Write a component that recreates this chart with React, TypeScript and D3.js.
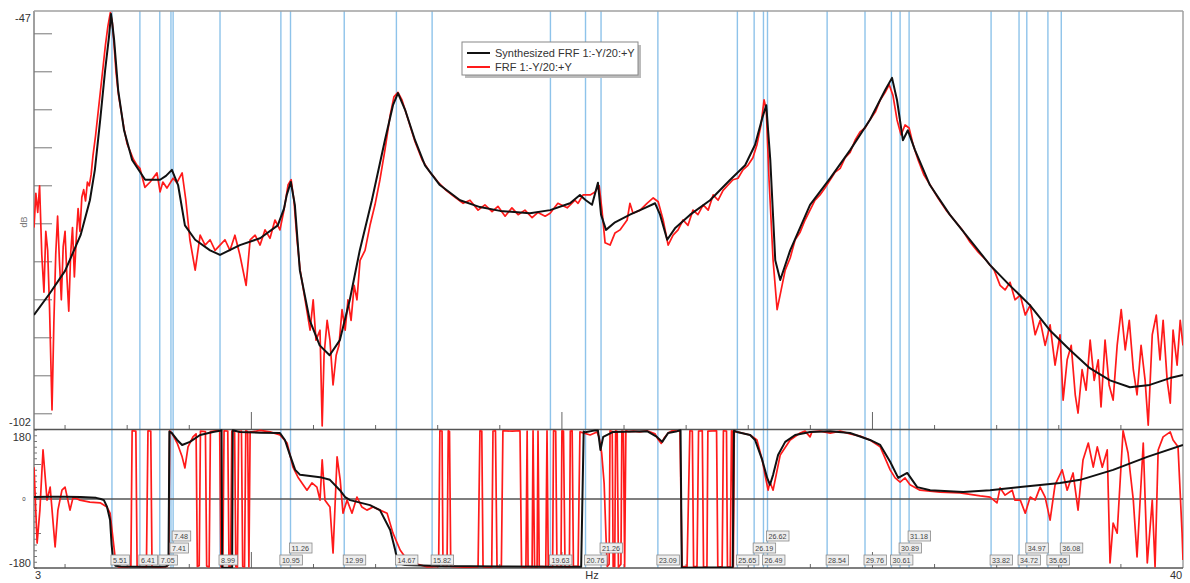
import React from "react";
import * as d3 from "d3";

type P = [number, number];

const markerFreqs: number[] = [5.51, 6.41, 7.05, 7.41, 7.48, 8.99, 10.95, 11.26, 12.99, 14.67, 15.82, 19.63, 20.76, 21.26, 23.09, 25.65, 26.19, 26.49, 26.62, 28.54, 29.76, 30.61, 30.89, 31.18, 33.82, 34.72, 34.97, 35.65, 36.08];

const synthMag: P[] = [[3.00,-87.0],[3.50,-84.2],[4.00,-81.2],[4.50,-76.5],[4.80,-71.9],[4.96,-67.9],[5.13,-61.4],[5.29,-54.8],[5.42,-50.2],[5.48,-47.4],[5.52,-48.6],[5.58,-50.8],[5.71,-57.4],[5.90,-62.7],[6.16,-66.6],[6.58,-69.2],[7.06,-69.2],[7.25,-68.7],[7.44,-67.9],[7.64,-69.9],[7.86,-75.2],[8.19,-77.1],[8.67,-78.5],[8.99,-79.1],[9.63,-77.8],[10.28,-76.9],[10.85,-75.2],[11.05,-73.0],[11.14,-71.2],[11.27,-69.5],[11.40,-72.5],[11.56,-81.1],[11.88,-87.7],[12.20,-91.0],[12.52,-92.3],[12.85,-90.3],[13.17,-85.0],[13.49,-78.5],[13.88,-71.9],[14.30,-64.0],[14.56,-59.4],[14.72,-57.8],[14.95,-60.0],[15.27,-64.0],[15.59,-67.3],[16.07,-69.9],[16.72,-71.9],[17.36,-72.8],[18.01,-73.3],[18.97,-73.6],[19.62,-73.2],[20.26,-72.3],[20.58,-71.2],[20.77,-71.9],[20.97,-72.5],[21.16,-69.6],[21.26,-73.8],[21.42,-75.8],[21.71,-74.8],[22.19,-73.8],[22.68,-72.9],[23.00,-72.3],[23.16,-73.8],[23.39,-77.1],[23.64,-75.6],[24.13,-73.8],[24.77,-71.9],[25.42,-69.2],[25.90,-67.3],[26.22,-64.6],[26.45,-61.1],[26.58,-59.4],[26.71,-66.6],[26.87,-79.8],[27.03,-82.4],[27.35,-78.5],[27.99,-72.5],[28.64,-69.0],[29.28,-65.3],[29.92,-61.3],[30.41,-57.4],[30.63,-55.8],[30.79,-58.7],[30.98,-64.0],[31.14,-62.7],[31.37,-65.3],[31.85,-69.9],[32.49,-73.8],[33.14,-77.1],[33.78,-80.4],[34.42,-83.1],[35.07,-85.7],[35.71,-89.0],[36.36,-91.6],[37.00,-94.0],[37.65,-95.6],[38.29,-96.5],[38.93,-96.2],[39.58,-95.3],[40.00,-94.9]];

const measMag: P[] = [[3.00,-75.5],[3.06,-71.0],[3.12,-73.5],[3.18,-70.0],[3.25,-79.0],[3.32,-84.0],[3.38,-76.0],[3.44,-78.5],[3.50,-86.0],[3.58,-99.5],[3.64,-88.0],[3.70,-79.0],[3.76,-74.0],[3.82,-80.0],[3.88,-85.0],[3.94,-78.0],[4.00,-76.0],[4.06,-82.0],[4.12,-86.5],[4.18,-79.0],[4.24,-75.5],[4.30,-82.0],[4.36,-77.0],[4.42,-73.0],[4.48,-76.0],[4.54,-71.5],[4.60,-70.5],[4.66,-72.0],[4.72,-69.5],[4.78,-70.0],[4.84,-68.5],[4.90,-66.0],[4.98,-63.5],[5.06,-60.5],[5.14,-57.5],[5.22,-54.5],[5.30,-51.5],[5.38,-49.0],[5.46,-47.2],[5.52,-48.5],[5.58,-51.5],[5.64,-55.0],[5.72,-58.0],[5.80,-60.0],[5.90,-62.5],[6.00,-64.5],[6.10,-65.5],[6.20,-66.5],[6.30,-67.2],[6.41,-67.7],[6.57,-70.2],[6.74,-69.5],[6.96,-68.3],[7.06,-70.8],[7.15,-69.5],[7.28,-70.3],[7.48,-69.0],[7.60,-69.6],[7.77,-68.3],[7.89,-71.9],[8.02,-77.1],[8.19,-81.1],[8.35,-76.5],[8.51,-77.8],[8.67,-77.1],[8.83,-78.5],[8.99,-77.8],[9.15,-77.1],[9.31,-78.5],[9.47,-76.5],[9.63,-79.1],[9.83,-83.1],[9.96,-77.1],[10.12,-76.5],[10.28,-77.8],[10.44,-75.8],[10.60,-76.9],[10.76,-74.5],[10.92,-75.8],[11.05,-73.2],[11.18,-69.9],[11.28,-69.2],[11.37,-71.9],[11.47,-77.1],[11.57,-81.1],[11.73,-85.0],[11.89,-89.0],[11.99,-85.0],[12.08,-90.3],[12.21,-89.0],[12.28,-101.6],[12.34,-92.3],[12.44,-87.7],[12.53,-90.3],[12.63,-96.2],[12.73,-92.3],[12.82,-91.0],[12.92,-86.3],[13.02,-89.0],[13.11,-85.0],[13.21,-87.7],[13.31,-83.1],[13.40,-85.0],[13.50,-79.8],[13.66,-78.5],[13.82,-75.2],[13.98,-72.5],[14.14,-69.2],[14.30,-65.3],[14.47,-60.7],[14.59,-58.3],[14.72,-57.7],[14.85,-58.7],[15.05,-61.3],[15.27,-64.2],[15.50,-66.6],[15.75,-68.2],[16.01,-69.5],[16.27,-70.6],[16.56,-71.5],[16.82,-72.3],[17.04,-71.9],[17.30,-73.2],[17.52,-72.5],[17.75,-73.4],[17.94,-72.7],[18.17,-74.0],[18.39,-72.9],[18.59,-73.8],[18.81,-73.2],[19.04,-74.2],[19.23,-73.5],[19.46,-74.0],[19.62,-73.6],[19.87,-72.3],[20.17,-72.9],[20.42,-71.9],[20.52,-72.3],[20.68,-71.2],[20.91,-71.2],[21.07,-70.8],[21.20,-70.0],[21.29,-73.2],[21.39,-77.5],[21.55,-77.8],[21.71,-76.2],[21.87,-75.8],[22.10,-74.5],[22.19,-72.3],[22.29,-73.6],[22.52,-73.2],[22.74,-72.3],[22.94,-71.6],[23.10,-72.1],[23.26,-74.5],[23.42,-77.8],[23.58,-76.5],[23.74,-75.8],[23.90,-74.5],[24.06,-75.2],[24.22,-73.2],[24.38,-73.8],[24.55,-72.5],[24.71,-73.2],[24.87,-71.2],[25.03,-71.9],[25.19,-70.6],[25.35,-69.9],[25.51,-69.2],[25.67,-69.0],[25.83,-67.9],[25.99,-67.3],[26.15,-66.3],[26.28,-64.6],[26.41,-62.0],[26.51,-58.7],[26.58,-60.0],[26.67,-69.2],[26.80,-79.8],[26.93,-86.3],[27.06,-83.7],[27.19,-81.1],[27.35,-79.5],[27.51,-77.1],[27.67,-76.1],[27.83,-74.5],[27.99,-73.2],[28.15,-71.9],[28.31,-71.2],[28.47,-70.3],[28.64,-69.2],[28.80,-68.2],[28.96,-67.7],[29.12,-66.3],[29.28,-65.6],[29.44,-64.0],[29.60,-62.9],[29.76,-62.4],[29.92,-61.3],[30.09,-60.3],[30.25,-58.7],[30.41,-57.7],[30.54,-56.7],[30.66,-58.1],[30.79,-61.3],[30.92,-63.3],[31.05,-62.0],[31.18,-62.4],[31.31,-64.6],[31.47,-66.6],[31.66,-68.6],[31.86,-69.9],[32.11,-71.6],[32.37,-73.2],[32.63,-74.5],[32.89,-75.8],[33.14,-77.4],[33.40,-78.7],[33.66,-79.8],[33.92,-81.1],[34.11,-83.1],[34.27,-83.7],[34.43,-82.7],[34.59,-85.0],[34.76,-84.4],[34.92,-87.0],[35.08,-85.7],[35.24,-89.6],[35.40,-87.7],[35.56,-91.0],[35.72,-88.3],[35.88,-93.6],[36.04,-89.6],[36.14,-98.2],[36.27,-92.9],[36.40,-91.0],[36.53,-97.5],[36.62,-99.9],[36.75,-94.2],[36.88,-96.9],[37.01,-90.3],[37.14,-95.6],[37.27,-92.9],[37.36,-99.1],[37.49,-90.3],[37.62,-96.2],[37.75,-98.2],[37.88,-91.0],[38.01,-86.3],[38.14,-91.6],[38.27,-87.7],[38.40,-94.2],[38.52,-97.5],[38.65,-91.0],[38.78,-95.6],[38.88,-101.5],[39.01,-89.6],[39.14,-87.0],[39.26,-92.9],[39.36,-87.7],[39.49,-95.6],[39.59,-98.6],[39.68,-89.0],[39.81,-93.6],[39.91,-87.7],[40.00,-91.0]];

const synthPhase: P[] = [[3.00,5],[3.50,6],[4.00,6],[4.50,5],[5.00,3],[5.15,0],[5.25,-3],[5.35,-20],[5.45,-55],[5.50,-120],[5.55,-160],[5.62,-174],[5.80,-176],[6.50,-177],[7.00,-177],[7.25,-176],[7.33,-172],[7.36,176],[7.44,172],[7.61,154],[7.77,141],[8.02,149],[8.35,167],[8.76,175],[8.99,178],[9.04,179.5],[9.06,-179.5],[9.38,-179.5],[9.40,179.5],[9.63,175],[10.28,173],[10.92,172],[11.08,154],[11.24,115],[11.41,76],[11.57,63],[12.21,57],[12.53,50],[12.85,23],[13.02,5],[13.18,-3],[13.82,-16],[14.14,-29],[14.47,-81],[14.63,-133],[14.72,-167],[14.95,-172],[16.07,-175],[18.00,-176],[20.00,-177],[20.62,-177],[20.70,176],[20.75,174],[21.07,179],[21.16,179],[21.24,128],[21.33,162],[21.65,175],[22.74,177],[23.06,162],[23.23,149],[23.42,172],[23.71,177],[23.82,179.5],[23.86,-179.5],[25.50,-178],[25.54,178],[25.64,175],[26.06,167],[26.22,154],[26.45,102],[26.61,55],[26.70,37],[26.80,63],[26.96,115],[27.19,149],[27.51,167],[27.99,175],[28.64,177],[29.28,172],[29.92,154],[30.25,141],[30.57,97],[30.83,55],[31.12,68],[31.44,31],[31.86,23],[32.92,18],[33.79,23],[34.76,31],[36.04,42],[36.69,50],[37.75,76],[38.85,110],[40.00,141]];

const measPhase: P[] = [[3.00,83],[3.10,-115],[3.19,-29],[3.29,128],[3.42,-3],[3.52,31],[3.68,-125],[3.77,-29],[3.90,23],[4.00,31],[4.16,-29],[4.26,5],[4.48,-3],[4.80,-8],[5.13,-10],[5.35,-21],[5.45,-37],[5.61,-151],[5.71,-177],[6.00,-177],[6.12,-175],[6.16,178],[6.28,177],[6.32,-176],[6.62,-178],[6.67,178],[6.76,177],[6.80,-177],[7.05,-178],[7.28,-176],[7.34,-168],[7.37,178],[7.44,172],[7.61,146],[7.77,110],[7.86,81],[7.96,136],[8.12,162],[8.22,170],[8.26,-176],[8.32,-174],[8.36,177],[8.52,176],[8.56,-175],[8.64,-177],[8.68,176],[8.85,178],[8.98,177],[9.02,-177],[9.08,-176],[9.12,178],[9.24,177],[9.28,-178],[9.33,-176],[9.37,177],[9.46,178],[9.50,-177],[9.55,-178],[9.59,176],[9.68,177],[9.72,-176],[9.78,-177],[9.82,178],[9.88,176],[9.92,-177],[9.96,175],[10.02,175],[10.28,179],[10.60,175],[10.92,167],[11.15,146],[11.34,83],[11.50,57],[11.79,23],[11.95,42],[12.11,31],[12.21,-3],[12.28,102],[12.37,-3],[12.53,-21],[12.63,-141],[12.76,110],[12.86,50],[12.95,-37],[13.08,-3],[13.24,-37],[13.40,5],[13.56,-21],[13.72,-29],[13.92,-21],[14.14,-29],[14.37,-37],[14.56,-89],[14.79,-133],[14.95,-151],[15.21,-167],[15.66,-177],[16.03,-176],[16.07,178],[16.14,177],[16.17,-175],[16.30,-176],[16.34,178],[16.38,176],[16.42,-176],[16.90,-178],[17.30,-177],[17.36,178],[17.42,177],[17.46,-177],[17.74,-178],[17.78,177],[17.86,178],[17.91,-177],[18.05,-176],[18.10,178],[18.40,177],[18.65,178],[18.70,-177],[18.84,-178],[18.88,177],[18.91,-176],[19.04,-177],[19.07,178],[19.12,-177],[19.20,-178],[19.23,177],[19.27,-176],[19.48,-177],[19.52,178],[19.56,-177],[19.70,-178],[19.73,178],[19.80,177],[19.84,-176],[19.97,-177],[20.00,178],[20.05,177],[20.10,-177],[20.24,-178],[20.27,177],[20.33,178],[20.37,-176],[20.52,-176],[20.58,175],[20.91,167],[21.13,175],[21.20,160],[21.28,120],[21.36,40],[21.42,-100],[21.46,-176],[21.52,-170],[21.55,178],[21.62,176],[21.65,-176],[21.70,-176],[21.73,178],[21.78,176],[21.82,-178],[21.90,-170],[21.93,177],[21.98,176],[22.02,-176],[22.06,178],[22.15,176],[22.30,177],[22.50,175],[22.74,178],[23.00,170],[23.10,155],[23.20,145],[23.30,160],[23.42,172],[23.55,178],[23.80,177],[23.87,-177],[24.03,-176],[24.12,178],[24.20,177],[24.24,-176],[24.35,-177],[24.40,177],[24.52,178],[24.56,-177],[24.67,-178],[24.70,177],[24.98,178],[25.02,-178],[25.16,-176],[25.20,178],[25.30,177],[25.33,-177],[25.42,-178],[25.46,178],[25.49,177],[25.52,-177],[25.55,176],[25.64,175],[26.06,167],[26.28,154],[26.45,102],[26.54,63],[26.64,23],[26.70,44],[26.80,23],[26.90,63],[27.03,115],[27.35,154],[27.67,172],[27.83,177],[27.99,162],[28.05,175],[28.31,177],[28.64,172],[28.96,177],[29.28,170],[29.60,164],[29.92,154],[30.25,136],[30.57,76],[30.73,55],[30.89,44],[31.05,55],[31.21,37],[31.53,23],[32.18,18],[32.82,16],[33.47,8],[33.79,5],[34.01,-10],[34.11,29],[34.27,10],[34.50,23],[34.59,-3],[34.76,-3],[34.92,-37],[35.08,5],[35.24,-3],[35.40,31],[35.56,5],[35.72,-55],[35.88,37],[36.11,76],[36.27,23],[36.46,68],[36.62,-29],[36.78,102],[36.95,146],[37.11,83],[37.24,136],[37.40,83],[37.56,128],[37.65,-167],[37.75,-63],[37.88,-89],[38.07,178],[38.23,120],[38.40,-3],[38.52,-151],[38.72,146],[38.85,-167],[39.01,-3],[39.10,-177],[39.20,128],[39.36,162],[39.59,175],[39.68,154],[39.84,136],[39.97,-89],[40.00,-159]];

const magTicks: number[] = [-50, -55, -60, -65, -70, -75, -80, -85, -90, -95, -100];
const phaseMajorTicks: number[] = [-90, 90];
const freqTicks: number[] = [4, 6, 8, 10, 12, 14, 16, 18, 20, 22, 24, 26, 28, 30, 32, 34, 36, 38];
const legendLabels: string[] = ["Synthesized FRF 1:-Y/20:+Y", "FRF 1:-Y/20:+Y"];
const legendColors: string[] = ["#111111", "#ff1a1a"];

const W = 1190, H = 583;
const L = 34, R = 1183;
const TOP1 = 11, BOT1 = 429, TOP2 = 430, BOT2 = 568;
const FONT = "Arial, 'Liberation Sans', sans-serif";

export default function App() {
  const x = d3.scaleLinear().domain([3, 40]).range([L, R]);
  const yMag = d3.scaleLinear().domain([-102, -47]).range([BOT1, TOP1]);
  const yPh = d3.scaleLinear().domain([-180, 180]).range([BOT2, TOP2]);
  const lineMag = d3.line<P>().x(d => x(d[0])).y(d => yMag(d[1]));
  const linePh = d3.line<P>().x(d => x(d[0])).y(d => yPh(d[1]));

  const rowEnds: number[] = [];
  const markers = markerFreqs.map(f => {
    const label = f.toFixed(2);
    const bx = x(f) - 1;
    const bw = label.length * 3.9 + 3;
    let r = 0;
    while (rowEnds[r] !== undefined && rowEnds[r] > bx) r++;
    rowEnds[r] = bx + bw;
    return { f, label, bx, bw, r };
  });

  const phMinor = d3.range(-180, 181, 15);

  return (
    <svg width={W} height={H} style={{ position: "absolute", left: 0, top: 0, background: "#fff" }} fontFamily={FONT}>
      <defs>
        <clipPath id="c1"><rect x={L} y={TOP1} width={R - L} height={BOT1 - TOP1} /></clipPath>
        <clipPath id="c2"><rect x={L} y={TOP2 - 1} width={R - L} height={BOT2 - TOP2 + 1} /></clipPath>
      </defs>

      {markers.map((m, i) => (
        <line key={"ml" + i} x1={x(m.f)} x2={x(m.f)} y1={TOP1} y2={BOT2} stroke="#8ec3ea" strokeWidth={1.4} />
      ))}

      <line x1={L} x2={R} y1={TOP1} y2={TOP1} stroke="#a0a0a0" strokeWidth={1.5} />
      <line x1={R} x2={R} y1={TOP1} y2={BOT2} stroke="#a0a0a0" strokeWidth={1.5} />
      <line x1={L} x2={L} y1={TOP1} y2={BOT2} stroke="#a0a0a0" strokeWidth={2} />

      {magTicks.map(t => (
        <line key={"mt" + t} x1={L} x2={L + 18} y1={yMag(t)} y2={yMag(t)} stroke="#777" strokeWidth={1} />
      ))}
      {phMinor.map(t => (
        <line key={"pt" + t} x1={L} x2={L + (phaseMajorTicks.includes(t) ? 7 : 3)} y1={yPh(t)} y2={yPh(t)} stroke="#777" strokeWidth={1} />
      ))}
      {freqTicks.map(f => {
        const major = f % 10 === 0;
        return (
          <g key={"ft" + f}>
            <line x1={x(f)} x2={x(f)} y1={BOT1} y2={BOT1 - (major ? 17 : 4)} stroke="#666" strokeWidth={1} />
            <line x1={x(f)} x2={x(f)} y1={BOT2} y2={BOT2 - (major ? 16 : 4)} stroke="#666" strokeWidth={1} />
          </g>
        );
      })}

      <line x1={L} x2={R} y1={BOT1 + 0.5} y2={BOT1 + 0.5} stroke="#555" strokeWidth={1.3} />
      <line x1={L} x2={R} y1={yPh(0)} y2={yPh(0)} stroke="#555" strokeWidth={1.3} />
      <line x1={L} x2={R} y1={BOT2} y2={BOT2} stroke="#555" strokeWidth={1.3} />

      <g clipPath="url(#c1)">
        <path d={lineMag(measMag) || ""} fill="none" stroke="#ff1a1a" strokeWidth={1.7} strokeLinejoin="round" />
        <path d={lineMag(synthMag) || ""} fill="none" stroke="#111" strokeWidth={2} strokeLinejoin="round" />
      </g>
      <g clipPath="url(#c2)">
        <path d={linePh(measPhase) || ""} fill="none" stroke="#ff1a1a" strokeWidth={1.7} strokeLinejoin="round" />
        <path d={linePh(synthPhase) || ""} fill="none" stroke="#111" strokeWidth={2} strokeLinejoin="round" />
      </g>

      {markers.map((m, i) => {
        const top = 555 - m.r * 12;
        return (
          <g key={"lb" + i}>
            <rect x={m.bx} y={top} width={m.bw} height={10} fill="#eeeeee" stroke="#8a8a8a" strokeWidth={0.8} />
            <text x={m.bx + 2} y={top + 8} fontSize={7.2} fill="#444">{m.label}</text>
          </g>
        );
      })}

      <text x={31} y={22} fontSize={11} textAnchor="end" fill="#333">{"-47"}</text>
      <text x={31} y={426} fontSize={11} textAnchor="end" fill="#333">{"-102"}</text>
      <text x={31} y={441} fontSize={11} textAnchor="end" fill="#333">{"180"}</text>
      <text x={24} y={501} fontSize={6} textAnchor="middle" fill="#333">{"0"}</text>
      <text x={31} y={567} fontSize={11} textAnchor="end" fill="#333">{"-180"}</text>
      <text x={27} y={222} fontSize={9} textAnchor="middle" fill="#777" transform="rotate(-90 27 222)">{"dB"}</text>
      <text x={38} y={579} fontSize={11} textAnchor="middle" fill="#333">{"3"}</text>
      <text x={592} y={579} fontSize={11} textAnchor="middle" fill="#333">{"Hz"}</text>
      <text x={1176} y={579} fontSize={11} textAnchor="middle" fill="#333">{"40"}</text>

      <g>
        <rect x={465} y={45} width={176} height={33} fill="#bbb" />
        <rect x={462} y={42} width={176} height={33} fill="#fff" stroke="#888" strokeWidth={1} />
        {legendLabels.map((lab, i) => (
          <g key={"lg" + i}>
            <line x1={467} x2={490} y1={53 + i * 14} y2={53 + i * 14} stroke={legendColors[i]} strokeWidth={2} />
            <text x={495} y={57 + i * 14} fontSize={11} fill="#333">{lab}</text>
          </g>
        ))}
      </g>
    </svg>
  );
}
